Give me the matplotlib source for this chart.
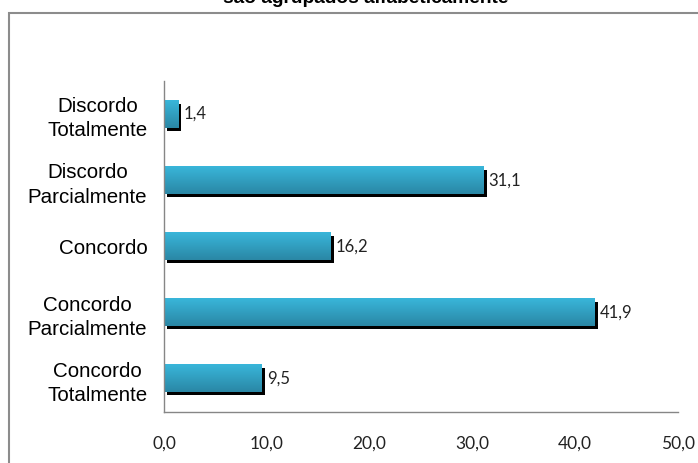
import matplotlib
matplotlib.use('Agg')
import matplotlib.pyplot as plt
import matplotlib.transforms as mtransforms
import numpy as np
from matplotlib.patches import Rectangle
from matplotlib.colors import LinearSegmentedColormap

# dados do gráfico (de baixo para cima)
categorias = ['Concordo\nTotalmente', 'Concordo\nParcialmente', 'Concordo',
              'Discordo\nParcialmente', 'Discordo\nTotalmente']
valores = [9.5, 41.9, 16.2, 31.1, 1.4]
ticks_x = [0, 10, 20, 30, 40, 50]
titulo = 'são agrupados alfabeticamente'

W, H = 698, 463
fig = plt.figure(figsize=(W / 100, H / 100), dpi=100)

# moldura cinza do gráfico
fig.patches.append(Rectangle((9 / W, -0.1), 1.2, 1 - 13 / H + 0.1,
                             transform=fig.transFigure, fill=False,
                             edgecolor='#8c8c8c', linewidth=1.5))

# título cortado no topo (como no original)
fig.text(366 / W, 1 - 3 / H, titulo, ha='center', va='baseline',
         fontsize=13.8, fontweight='bold', family='Liberation Sans')

ax = fig.add_axes([164 / W, 1 - 412 / H, (678 - 164) / W, (412 - 81) / H])

cmap = LinearSegmentedColormap.from_list('grad', ['#2a87a5', '#39b6da'])
grad = np.linspace(0, 1, 64).reshape(-1, 1)
h = 0.41
sombra = mtransforms.offset_copy(ax.transData, fig=fig, x=3, y=-3, units='dots')
texto_off = mtransforms.offset_copy(ax.transData, fig=fig, x=5, y=0, units='dots')

for i, v in enumerate(valores):
    ax.barh(i, v, height=h, color='black', transform=sombra, zorder=1)
    ax.imshow(grad, cmap=cmap, aspect='auto', origin='lower',
              extent=[0, v, i - h / 2, i + h / 2], zorder=2)
    ax.text(v, i, f'{v:.1f}'.replace('.', ','), transform=texto_off,
            va='center', ha='left', fontsize=12, family='Lato', color='#222222')

ax.set_xlim(0, 50)
ax.set_ylim(-0.5, len(valores) - 0.5)

ax.set_yticks(range(len(categorias)))
ax.set_yticklabels(categorias, fontsize=14.8, family='Liberation Sans')
for t in ax.get_yticklabels():
    t.set_multialignment('center')
    t.set_linespacing(1.35)

ax.set_xticks(ticks_x)
ax.set_xticklabels([f'{t:.1f}'.replace('.', ',') for t in ticks_x],
                   fontsize=12.5, family='Lato', color='#222222')

ax.tick_params(axis='y', length=0, pad=12)
ax.tick_params(axis='x', length=0, pad=17)
for s in ['top', 'right']:
    ax.spines[s].set_visible(False)
for s in ['left', 'bottom']:
    ax.spines[s].set_color('#868686')
    ax.spines[s].set_linewidth(1)

fig.savefig('out.png', dpi=100)
